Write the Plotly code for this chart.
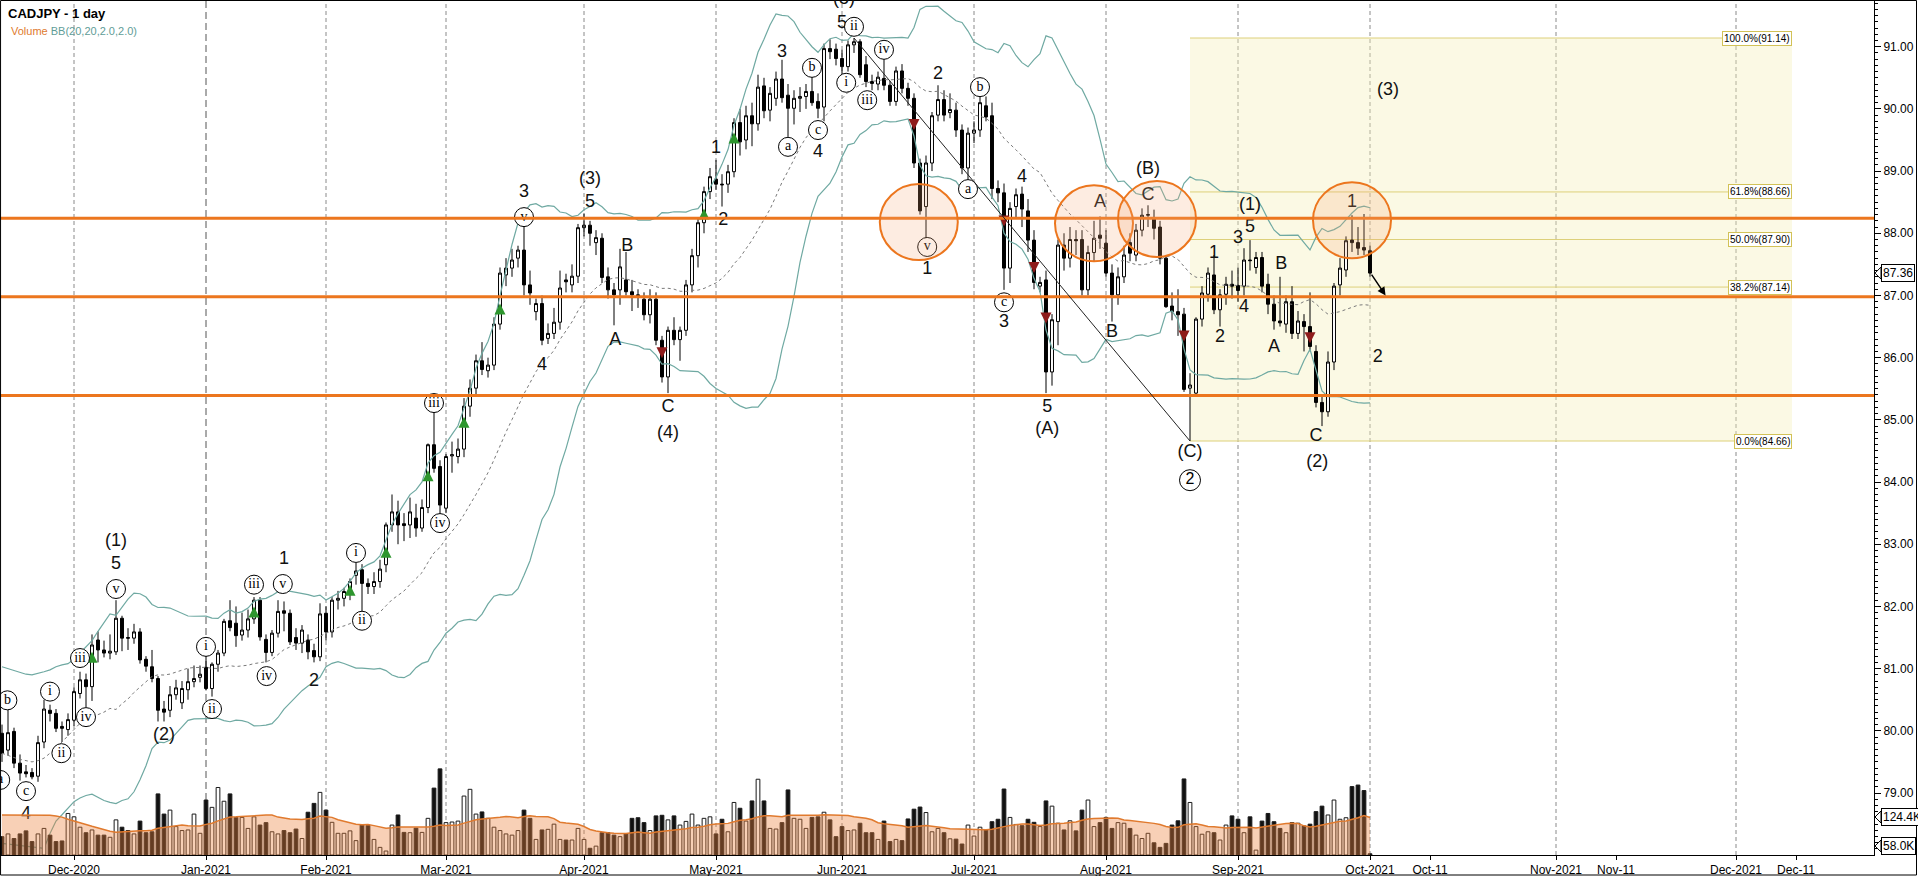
import pandas as pd
import numpy as np
import plotly.graph_objects as go

# ---------------- calendar ----------------
START, END = "2020-11-13", "2021-10-01"
HOLIDAYS = ["2020-12-25", "2021-01-01"]
trade_days = [d for d in pd.bdate_range(START, END) if d.strftime("%Y-%m-%d") not in HOLIDAYS]


def pos(date):
    d = pd.Timestamp(date)
    if d <= trade_days[-1]:
        return trade_days.index(d)
    return len(trade_days) - 1 + (d - trade_days[-1]).days


# ---------------- data ----------------
opens = [79.96,79.69,79.99,79.48,79.34,79.33,79.27,79.82,80.33,80.28,
         80.07,80.02,80.17,80.60,80.82,80.71,81.46,81.30,81.25,81.27,
         81.81,81.50,81.49,81.59,81.15,81.03,80.84,80.35,80.33,80.58,
         80.45,80.66,80.79,80.86,81.02,80.68,81.07,81.25,81.77,81.73,
         81.54,81.62,81.80,82.10,81.47,81.26,81.57,81.93,81.89,81.50,
         81.41,81.46,81.29,81.19,81.89,81.59,82.10,82.13,82.21,82.50,
         82.59,82.37,82.32,82.40,82.67,83.31,83.52,83.33,83.31,83.42,
         83.26,83.59,84.60,84.25,83.58,84.42,84.41,84.53,85.22,85.51,
         85.95,85.79,85.88,86.54,87.33,87.44,87.60,87.73,87.17,86.74,
         86.87,86.31,86.39,86.57,87.25,87.17,87.31,88.09,88.13,87.85,
         87.92,87.30,87.09,87.09,87.25,87.06,87.01,86.94,86.69,86.94,
         86.28,85.69,86.44,86.29,86.44,87.17,87.64,88.17,88.67,88.87,
         88.79,88.79,88.99,89.78,89.50,89.89,89.76,90.37,89.98,90.17,
         90.48,90.22,90.01,90.17,90.20,90.28,90.12,90.03,90.97,90.96,
         90.81,90.68,91.03,91.08,90.71,90.44,90.40,90.49,90.38,90.12,
         90.61,90.33,90.17,89.13,88.43,89.13,89.90,90.15,89.94,89.98,
         89.66,89.05,89.61,89.66,90.05,89.89,88.72,88.65,87.44,88.43,
         88.63,88.36,87.89,87.15,87.25,85.77,86.58,87.81,87.60,87.90,
         87.90,87.09,87.69,87.97,87.84,87.36,87.01,87.30,87.85,87.65,
         88.05,88.29,88.24,88.10,87.60,86.83,86.74,86.70,85.51,85.43,
         86.62,87.02,87.33,86.77,87.02,87.18,87.16,87.15,87.57,87.45,
         87.61,87.18,86.86,86.59,86.54,86.90,86.39,86.58,86.50,86.10,
         85.28,85.13,85.93,87.17,87.41,87.89,87.85,87.77,87.72]
highs = [80.10,80.40,80.05,79.62,79.45,79.40,79.92,80.50,80.42,80.35,
         80.15,80.28,80.70,80.95,80.92,81.55,81.60,81.45,81.55,82.10,
         81.85,81.65,81.72,81.65,81.20,81.30,80.88,80.48,80.72,80.82,
         80.80,81.00,81.05,81.05,81.30,81.10,81.30,81.80,82.10,82.00,
         81.90,81.95,82.15,82.15,81.55,81.62,82.10,82.08,81.95,81.65,
         81.70,81.55,81.40,82.05,82.00,82.15,82.25,82.30,82.45,82.70,
         82.68,82.45,82.55,82.75,83.35,83.80,83.70,83.50,83.75,83.65,
         83.72,84.62,85.13,84.35,84.45,84.65,84.70,85.35,85.65,86.05,
         86.25,86.00,86.65,87.45,87.60,87.75,87.80,88.15,87.40,86.95,
         87.00,86.55,86.80,87.40,87.35,87.50,88.15,88.32,88.20,88.05,
         88.00,87.45,87.20,87.75,87.70,87.25,87.10,87.05,87.10,87.05,
         86.35,86.50,86.65,86.50,87.25,87.75,88.25,88.75,89.05,89.18,
         88.95,89.10,89.85,90.00,90.05,90.10,90.55,90.50,90.35,90.60,
         90.79,90.40,90.30,90.35,90.40,90.55,90.25,91.05,91.12,91.05,
         90.95,91.10,91.14,91.12,90.85,90.55,90.60,90.82,90.45,90.68,
         90.72,90.42,90.25,89.20,89.25,89.95,90.38,90.30,90.25,90.10,
         89.75,89.70,89.80,90.20,90.20,90.10,88.85,88.80,88.50,88.72,
         88.75,88.55,88.05,87.30,87.40,86.70,87.90,88.00,88.10,88.05,
         88.05,87.80,88.20,88.27,88.05,87.50,87.45,87.80,88.00,88.15,
         88.40,88.45,88.38,88.20,87.65,87.05,87.10,86.80,85.75,86.65,
         87.15,87.45,87.65,87.10,87.30,87.40,87.45,87.76,87.89,87.70,
         87.70,87.35,87.00,87.30,87.00,87.15,86.75,86.70,87.05,86.20,
         85.40,86.10,87.20,87.60,87.95,88.29,88.10,88.31,87.80]
lows = [79.50,79.60,79.40,79.20,79.25,79.22,79.18,79.72,80.15,79.98,
        79.82,79.92,80.08,80.52,80.38,80.48,81.10,81.18,81.15,81.22,
        81.28,81.30,81.40,81.08,80.95,80.78,80.15,80.15,80.22,80.50,
        80.35,80.50,80.70,80.78,80.65,80.55,80.95,81.20,81.60,81.35,
        81.45,81.50,81.72,81.45,81.10,81.20,81.50,81.60,81.38,81.30,
        81.25,81.15,81.10,81.12,81.45,81.50,81.95,82.00,82.10,82.35,
        81.80,82.20,82.20,82.30,82.55,83.20,83.00,83.05,83.10,83.12,
        83.20,83.50,84.15,83.45,83.50,84.15,84.30,84.40,85.05,85.40,
        85.72,85.68,85.80,86.45,87.15,87.30,87.45,87.00,86.85,86.60,
        86.20,86.22,86.30,86.45,87.05,87.05,87.20,87.95,87.80,87.65,
        87.20,86.95,86.52,86.85,87.00,86.75,86.80,86.60,86.55,86.20,
        85.60,85.43,86.20,85.95,86.35,87.05,87.45,88.00,88.55,88.70,
        88.43,88.65,88.90,89.25,89.35,89.40,89.65,89.85,89.80,90.05,
        90.10,89.55,89.75,89.95,90.00,90.05,89.85,89.80,90.80,90.70,
        90.55,90.60,90.90,90.50,90.35,90.30,90.30,90.30,90.05,90.05,
        90.25,90.05,89.05,88.30,87.92,89.00,89.80,89.80,89.85,89.55,
        88.95,88.85,89.45,89.55,89.80,88.55,88.50,87.09,87.20,88.25,
        88.10,87.70,87.10,87.05,85.43,85.55,86.20,87.40,87.45,87.65,
        87.00,87.00,87.55,87.75,87.30,86.58,86.85,87.20,87.55,87.55,
        87.95,88.10,87.90,87.50,86.80,86.60,86.35,85.45,84.66,85.40,
        86.50,86.90,86.70,86.50,86.85,86.95,86.90,87.00,87.40,87.35,
        87.05,86.70,86.45,86.50,86.40,86.30,86.30,86.10,86.10,85.20,
        84.90,85.05,85.80,87.00,87.30,87.70,87.65,87.65,87.30]
closes = [79.64,79.97,79.48,79.32,79.31,79.26,79.81,80.35,80.28,80.04,
          80.04,80.18,80.63,80.82,80.71,81.38,81.30,81.25,81.28,81.81,
          81.49,81.49,81.59,81.14,81.04,80.84,80.33,80.30,80.58,80.69,
          80.68,80.79,80.84,80.91,80.68,81.07,81.25,81.76,81.66,81.53,
          81.62,81.80,82.10,81.51,81.26,81.57,81.92,81.89,81.43,81.41,
          81.62,81.27,81.19,81.88,81.59,82.10,82.13,82.24,82.40,82.57,
          82.37,82.32,82.40,82.60,83.31,83.52,83.31,83.30,83.52,83.26,
          83.59,84.60,84.22,83.63,84.41,84.44,84.53,85.22,85.51,85.95,
          85.81,85.88,86.54,87.36,87.44,87.57,87.73,87.17,87.04,86.87,
          86.28,86.39,86.57,87.12,87.22,87.31,88.09,88.13,88.00,87.93,
          87.29,87.09,87.01,87.46,87.06,87.01,86.99,86.69,86.94,86.28,
          85.69,86.44,86.29,86.44,87.17,87.64,88.17,88.67,88.91,88.79,
          88.78,88.99,89.78,89.47,89.89,89.76,90.35,89.97,90.25,90.48,
          90.18,90.01,90.17,90.20,90.28,90.10,90.01,90.97,90.92,90.81,
          90.68,91.03,91.08,90.55,90.44,90.41,90.51,90.38,90.12,90.61,
          90.33,90.17,89.13,88.36,89.13,89.89,90.15,89.90,89.99,89.66,
          89.05,89.61,89.66,90.10,89.87,88.72,88.65,87.44,88.40,88.62,
          88.39,87.89,87.21,87.21,85.77,86.61,87.81,87.60,87.90,87.88,
          87.09,87.69,87.92,87.92,87.36,87.01,87.30,87.65,87.68,88.05,
          88.29,88.30,88.08,87.60,86.82,86.74,86.69,85.49,85.56,86.62,
          87.04,87.36,86.77,87.01,87.18,87.15,87.08,87.57,87.56,87.61,
          87.15,86.86,86.59,86.56,86.90,86.39,86.59,86.50,86.18,85.28,
          85.13,85.93,87.15,87.44,87.88,87.85,87.76,87.73,87.36]
volume_k = [60,69,54,69,79,44,69,87,65,44,46,136,125,91,73,82,65,65,58,115,
            91,80,69,111,73,76,200,134,147,93,80,82,134,71,180,156,221,176,200,123,
            123,87,125,98,106,76,69,80,73,85,54,140,169,205,147,107,71,71,79,47,
            98,97,51,25,13,98,131,74,73,88,74,120,219,282,106,108,111,193,215,134,
            141,120,91,80,69,65,80,147,120,51,82,84,101,51,49,49,87,51,22,29,
            73,73,65,60,69,120,122,106,80,128,130,115,128,98,110,134,
            98,120,125,69,117,76,172,153,111,177,248,177,87,85,106,213,120,117,87,123,
            125,140,115,60,93,80,82,104,73,73,51,111,44,51,47,118,150,157,139,76,
            87,73,53,52,36,98,62,91,82,109,117,216,123,100,96,117,107,93,177,160,
            104,82,112,79,147,180,93,106,123,87,106,104,87,65,54,71,40,25,38,98,
            112,249,172,93,68,76,73,49,98,128,117,73,125,16,111,136,109,87,73,106,
            104,95,101,142,160,131,180,117,122,224,229,211,4]

# Bollinger band / volume-average values read for the first 19 sessions
# (before a full 20-session window exists in this data)
bb_upper_early = [81.03,81.00,80.97,80.94,80.91,80.90,80.92,80.95,80.98,81.03,
                  81.06,81.08,81.15,81.25,81.35,81.45,81.60,81.73,81.88]
bb_mid_early = [79.64,79.60,79.57,79.54,79.52,79.50,79.52,79.56,79.64,79.72,
                79.82,79.92,80.02,80.12,80.18,80.22,80.25,80.30,80.36]
bb_lower_early = [78.19,78.18,78.17,78.16,78.14,78.13,78.12,78.11,78.35,78.55,
                  78.65,78.76,78.86,78.92,78.96,78.98,78.93,78.88,78.85]
vol_ma_early = [131,131,131,131,131,132,132,131,130,128,124,117,112,105,100,94,88,82,78]

tick_dates = ["2020-12-01","2021-01-04","2021-02-01","2021-03-01","2021-04-01","2021-05-03",
              "2021-06-01","2021-07-01","2021-08-02","2021-09-01","2021-10-01","2021-10-11",
              "2021-11-01","2021-11-11","2021-12-01","2021-12-11"]
tick_text = ["Dec-2020","Jan-2021","Feb-2021","Mar-2021","Apr-2021","May-2021","Jun-2021",
             "Jul-2021","Aug-2021","Sep-2021","Oct-2021","Oct-11","Nov-2021","Nov-11",
             "Dec-2021","Dec-11"]

levels_h = [88.24, 86.98, 85.39]          # orange horizontal levels
fib_high_date, fib_high = "2021-06-03", 91.14
fib_low_date, fib_low = "2021-08-20", 84.66
fib_pcts = [100.0, 61.8, 50.0, 38.2, 0.0]

up_signal_dates = ["2020-12-04","2021-01-14","2021-02-05","2021-02-15","2021-02-24",
                   "2021-03-04","2021-03-12","2021-04-29","2021-05-06"]
up_signal_px = [81.27,82.00,82.35,82.96,84.19,85.05,86.87,88.40,89.62]
dn_signal_dates = ["2021-04-20","2021-06-17","2021-07-08","2021-07-15","2021-07-19",
                   "2021-08-19","2021-09-17"]
dn_signal_px = [85.99,89.66,88.11,87.36,86.55,86.26,86.23]

# wave labels: (session position, price, text)
plain_labels = [
    (4.0, 78.66, "4"), (19, 82.67, "5"), (19, 83.04, "(1)"), (27, 79.92, "(2)"),
    (47, 82.75, "1"), (52, 80.80, "2"), (87, 88.65, "3"), (90, 85.88, "4"),
    (98, 88.86, "(3)"), (98, 88.50, "5"), (104.2, 87.78, "B"), (102.2, 86.28, "A"),
    (111, 85.20, "C"), (111, 84.78, "(4)"), (119, 89.37, "1"), (120.2, 88.21, "2"),
    (130, 90.91, "3"), (136, 89.30, "4"), (140, 91.38, "5"), (156, 90.56, "2"),
    (154.2, 87.42, "1"), (170, 88.89, "4"), (167, 86.56, "3"), (174.2, 85.20, "5"),
    (174.2, 84.84, "(A)"), (183, 88.50, "A"), (185, 86.40, "B"), (191, 89.02, "(B)"),
    (191, 88.61, "C"), (198, 84.47, "(C)"), (202, 87.68, "1"), (203, 86.33, "2"),
    (206, 87.92, "3"), (207, 86.80, "4"), (208, 88.10, "5"), (208, 88.45, "(1)"),
    (213.2, 87.50, "B"), (212, 86.17, "A"), (219, 84.73, "C"), (219.2, 84.32, "(2)"),
    (225, 88.50, "1"), (229.3, 86.01, "2"), (231, 90.29, "(3)"),
]
circled_labels = [
    (0.9, 80.49, "b"), (-0.3, 79.21, "a"), (4.0, 79.03, "c"),
    (8.0, 80.63, "i"), (9.9, 79.64, "ii"), (13.0, 81.17, "iii"), (14.0, 80.22, "iv"), (19.0, 82.28, "v"),
    (34, 81.35, "i"), (35, 80.35, "ii"), (42, 82.35, "iii"), (44.1, 80.88, "iv"), (46.8, 82.36, "v"),
    (59, 82.86, "i"), (60, 81.77, "ii"), (72, 85.27, "iii"), (73, 83.34, "iv"), (87, 88.26, "v"),
    (131, 89.39, "a"), (135, 90.66, "b"), (136, 89.66, "c"),
    (140.7, 90.42, "i"), (142, 91.32, "ii"), (144.2, 90.14, "iii"), (147, 90.95, "iv"),
    (154.2, 87.78, "v"), (161, 88.71, "a"), (163, 90.35, "b"), (167, 86.89, "c"),
]
circled_digit = [(198, 84.03, "2")]
ellipse_centers = [(152.8, 88.18), (182.0, 88.16), (192.5, 88.23), (225.0, 88.21)]

# ---------------- derived series ----------------
n = len(trade_days)
assert all(len(a) == n for a in (opens, highs, lows, closes, volume_k)), [len(a) for a in (opens, highs, lows, closes, volume_k)]
xi = list(range(n))
cs = pd.Series(closes)
mid = cs.rolling(20).mean()
sd = cs.rolling(20).std(ddof=0)
upper = (mid + 2 * sd).tolist()
lower = (mid - 2 * sd).tolist()
mid = mid.tolist()
ne = len(bb_mid_early)
upper[:ne] = bb_upper_early
lower[:ne] = bb_lower_early
mid[:ne] = bb_mid_early
vma = pd.Series(volume_k, dtype=float).rolling(20).mean().tolist()
vma[:ne] = vol_ma_early

tick_pos = [pos(d) for d in tick_dates]
grid_pos = [p for p, t in zip(tick_pos, tick_text) if "-20" in t]

# pixel geometry helpers (plot area 1874 x 855 px)
PX_PER_SESSION = 6.0
PX_PER_PRICE = 62.19
X_RANGE = [-0.333, 312.0]
Y_RANGE = [78.003, 91.751]
V_RANGE = [0, 2799]

fig = go.Figure()

# ---------------- volume ----------------
vol_fill = ["white" if c >= o else "#111111" for o, c in zip(opens, closes)]
fig.add_trace(go.Bar(x=xi, y=volume_k, yaxis="y2", width=0.62,
                     marker=dict(color=vol_fill, line=dict(color="#1a1a1a", width=1)),
                     hoverinfo="skip"))
fig.add_trace(go.Scatter(x=xi, y=vma, yaxis="y2", mode="lines",
                         line=dict(color="#e07a2e", width=1.5),
                         fill="tozeroy", fillcolor="rgba(236,132,62,0.38)", hoverinfo="skip"))

# ---------------- Bollinger bands ----------------
fig.add_trace(go.Scatter(x=xi, y=upper, mode="lines", line=dict(color="#6fa9a2", width=1.2), hoverinfo="skip"))
fig.add_trace(go.Scatter(x=xi, y=lower, mode="lines", line=dict(color="#6fa9a2", width=1.2), hoverinfo="skip"))
fig.add_trace(go.Scatter(x=xi, y=mid, mode="lines", line=dict(color="#7a7a7a", width=1, dash="3px,3px"), hoverinfo="skip"))

# ---------------- candles ----------------
fig.add_trace(go.Candlestick(
    x=xi, open=opens, high=highs, low=lows, close=closes, whiskerwidth=0,
    increasing=dict(line=dict(color="black", width=1), fillcolor="white"),
    decreasing=dict(line=dict(color="black", width=1), fillcolor="black"),
    hoverinfo="skip"))

# ---------------- signals ----------------
fig.add_trace(go.Scatter(x=[pos(d) for d in up_signal_dates], y=up_signal_px, mode="markers",
                         marker=dict(symbol="arrow-up", size=11, color="#2e962e", line=dict(width=0)),
                         hoverinfo="skip"))
fig.add_trace(go.Scatter(x=[pos(d) for d in dn_signal_dates], y=dn_signal_px, mode="markers",
                         marker=dict(symbol="arrow-down", size=11, color="#8e1b1b", line=dict(width=0)),
                         hoverinfo="skip"))

# ---------------- labels ----------------
fig.add_trace(go.Scatter(x=[p[0] for p in plain_labels], y=[p[1] for p in plain_labels],
                         text=[p[2] for p in plain_labels], mode="text", cliponaxis=False,
                         textfont=dict(family="Arial, Liberation Sans", size=18, color="#111111"),
                         hoverinfo="skip"))
fig.add_trace(go.Scatter(x=[p[0] for p in circled_labels], y=[p[1] for p in circled_labels],
                         text=[p[2] for p in circled_labels], mode="markers+text",
                         textposition="middle center", cliponaxis=False,
                         marker=dict(symbol="circle", size=19, color="white", line=dict(color="black", width=1)),
                         textfont=dict(family="Liberation Serif, Times New Roman, serif", size=14, color="black"),
                         hoverinfo="skip"))
fig.add_trace(go.Scatter(x=[p[0] for p in circled_digit], y=[p[1] for p in circled_digit],
                         text=[p[2] for p in circled_digit], mode="markers+text",
                         textposition="middle center", cliponaxis=False,
                         marker=dict(symbol="circle", size=21, color="white", line=dict(color="black", width=1)),
                         textfont=dict(family="Arial, Liberation Sans", size=16, color="black"),
                         hoverinfo="skip"))

# ---------------- shapes ----------------
shapes = []
x_hi, x_lo = pos(fib_high_date), pos(fib_low_date)
fib_right = (1792 - 2) / PX_PER_SESSION
shapes.append(dict(type="rect", xref="x", yref="y", x0=x_lo, x1=fib_right, y0=fib_low, y1=fib_high,
                   fillcolor="rgba(245,238,185,0.38)", line=dict(width=0), layer="below"))
for gp, t in zip(tick_pos, tick_text):
    if "-20" not in t:
        continue
    strong = t == "Jan-2021"
    shapes.append(dict(type="line", xref="x", yref="paper", x0=gp, x1=gp, y0=0, y1=1, layer="below",
                       line=dict(color="#555555" if strong else "#8a8a8a", width=1,
                                 dash="7px,4px" if strong else "4px,3px")))
fib_prices = [fib_low + (fib_high - fib_low) * p / 100.0 for p in fib_pcts]
for fp in fib_prices:
    shapes.append(dict(type="line", xref="x", yref="y", x0=x_lo, x1=fib_right - 2, y0=fp, y1=fp,
                       line=dict(color="#ddd07a", width=1), layer="below"))
for lv in levels_h:
    shapes.append(dict(type="line", xref="paper", yref="y", x0=0, x1=1, y0=lv, y1=lv,
                       line=dict(color="#ec761e", width=3), layer="above"))
rx = 39 / PX_PER_SESSION
ry = 38 / PX_PER_PRICE
for cx, cy in ellipse_centers:
    shapes.append(dict(type="circle", xref="x", yref="y", x0=cx - rx, x1=cx + rx, y0=cy - ry, y1=cy + ry,
                       line=dict(color="#ec761e", width=2), fillcolor="rgba(248,168,120,0.22)", layer="above"))
shapes.append(dict(type="line", xref="x", yref="y", x0=x_hi, y0=fib_high, x1=x_lo, y1=fib_low,
                   line=dict(color="#222222", width=1), layer="above"))
# right price pointer triangles
for yv, yr in ((closes[-1], "y"), (124.4, "y2"), (29.5, "y2")):
    shapes.append(dict(type="path", xref="paper", yref=yr, xsizemode="pixel", ysizemode="pixel",
                       xanchor=1, yanchor=yv, path="M 1 0 L 7 6 L 7 -6 Z",
                       line=dict(color="black", width=1), fillcolor="white", layer="above"))
# frame
shapes.append(dict(type="rect", xref="paper", yref="paper", x0=0.0003, x1=1916.5 / 1874,
                   y0=-20 / 855, y1=0.9994, line=dict(color="black", width=1), layer="above"))

# ---------------- annotations ----------------
ann = []
ann.append(dict(xref="paper", yref="paper", x=6 / 1874, y=1 - 13 / 855, xanchor="left", yanchor="middle",
                text="<b>CADJPY - 1 day</b>", showarrow=False,
                font=dict(family="Arial, Liberation Sans", size=13, color="black")))
ann.append(dict(xref="paper", yref="paper", x=9 / 1874, y=1 - 31 / 855, xanchor="left", yanchor="middle",
                text="<span style='color:#e07a2e'>Volume</span> <span style='color:#5f9d97'>BB(20,20,2.0,2.0)</span>",
                showarrow=False, font=dict(family="Arial, Liberation Sans", size=11)))
ann.append(dict(xref="x", yref="paper", x=140.3, y=1 + 2 / 855, yanchor="middle", text="(5)", showarrow=False,
                font=dict(family="Arial, Liberation Sans", size=18, color="#111111")))
for pct, fp in zip(fib_pcts, fib_prices):
    ann.append(dict(xref="x", yref="y", x=fib_right, y=fp, xanchor="right", yanchor="middle",
                    text=f"{pct:.1f}%({fp:.2f})", showarrow=False, bgcolor="white",
                    bordercolor="#d2c257", borderwidth=1, borderpad=1,
                    font=dict(family="Arial, Liberation Sans", size=10, color="black")))
for txt, yv, yr in ((f"{closes[-1]:.2f}", closes[-1], "y"), ("124.4K", 124.4, "y2"), ("58.0K", 29.5, "y2")):
    ann.append(dict(xref="paper", yref=yr, x=1, y=yv, xanchor="left", yanchor="middle", xshift=7,
                    text=txt, showarrow=False, bgcolor="white", bordercolor="black", borderwidth=1,
                    borderpad=1, font=dict(family="Arial, Liberation Sans", size=12, color="black")))
ann.append(dict(xref="x", yref="y", axref="x", ayref="y", x=230.6, y=87.00, ax=n - 1 + 0.1, ay=closes[-1],
                showarrow=True, arrowhead=2, arrowsize=1.1, arrowwidth=1.5, arrowcolor="black", text=""))

fig.update_layout(
    width=1918, height=876, margin=dict(l=0, r=44, t=0, b=21),
    paper_bgcolor="white", plot_bgcolor="white", showlegend=False,
    shapes=shapes, annotations=ann,
    xaxis=dict(range=X_RANGE, tickvals=tick_pos, ticktext=tick_text, ticks="outside", ticklen=4,
               tickcolor="black", showgrid=False, zeroline=False, showline=True, linecolor="black",
               tickfont=dict(family="Arial, Liberation Sans", size=12, color="black"),
               rangeslider=dict(visible=False), fixedrange=True),
    yaxis=dict(side="right", range=Y_RANGE, dtick=1, tick0=0, tickformat=".2f", ticks="outside",
               ticklen=6, tickcolor="black", showgrid=False, zeroline=False, showline=True,
               linecolor="black", tickfont=dict(family="Arial, Liberation Sans", size=12, color="black"),
               minor=dict(dtick=0.1, ticks="outside", ticklen=3, tickcolor="black"), fixedrange=True),
    yaxis2=dict(overlaying="y", range=V_RANGE, visible=False, fixedrange=True),
)

fig.write_html("out.html", config={"displayModeBar": False},
               post_script="document.body.style.margin='0';document.body.style.overflow='hidden';")
